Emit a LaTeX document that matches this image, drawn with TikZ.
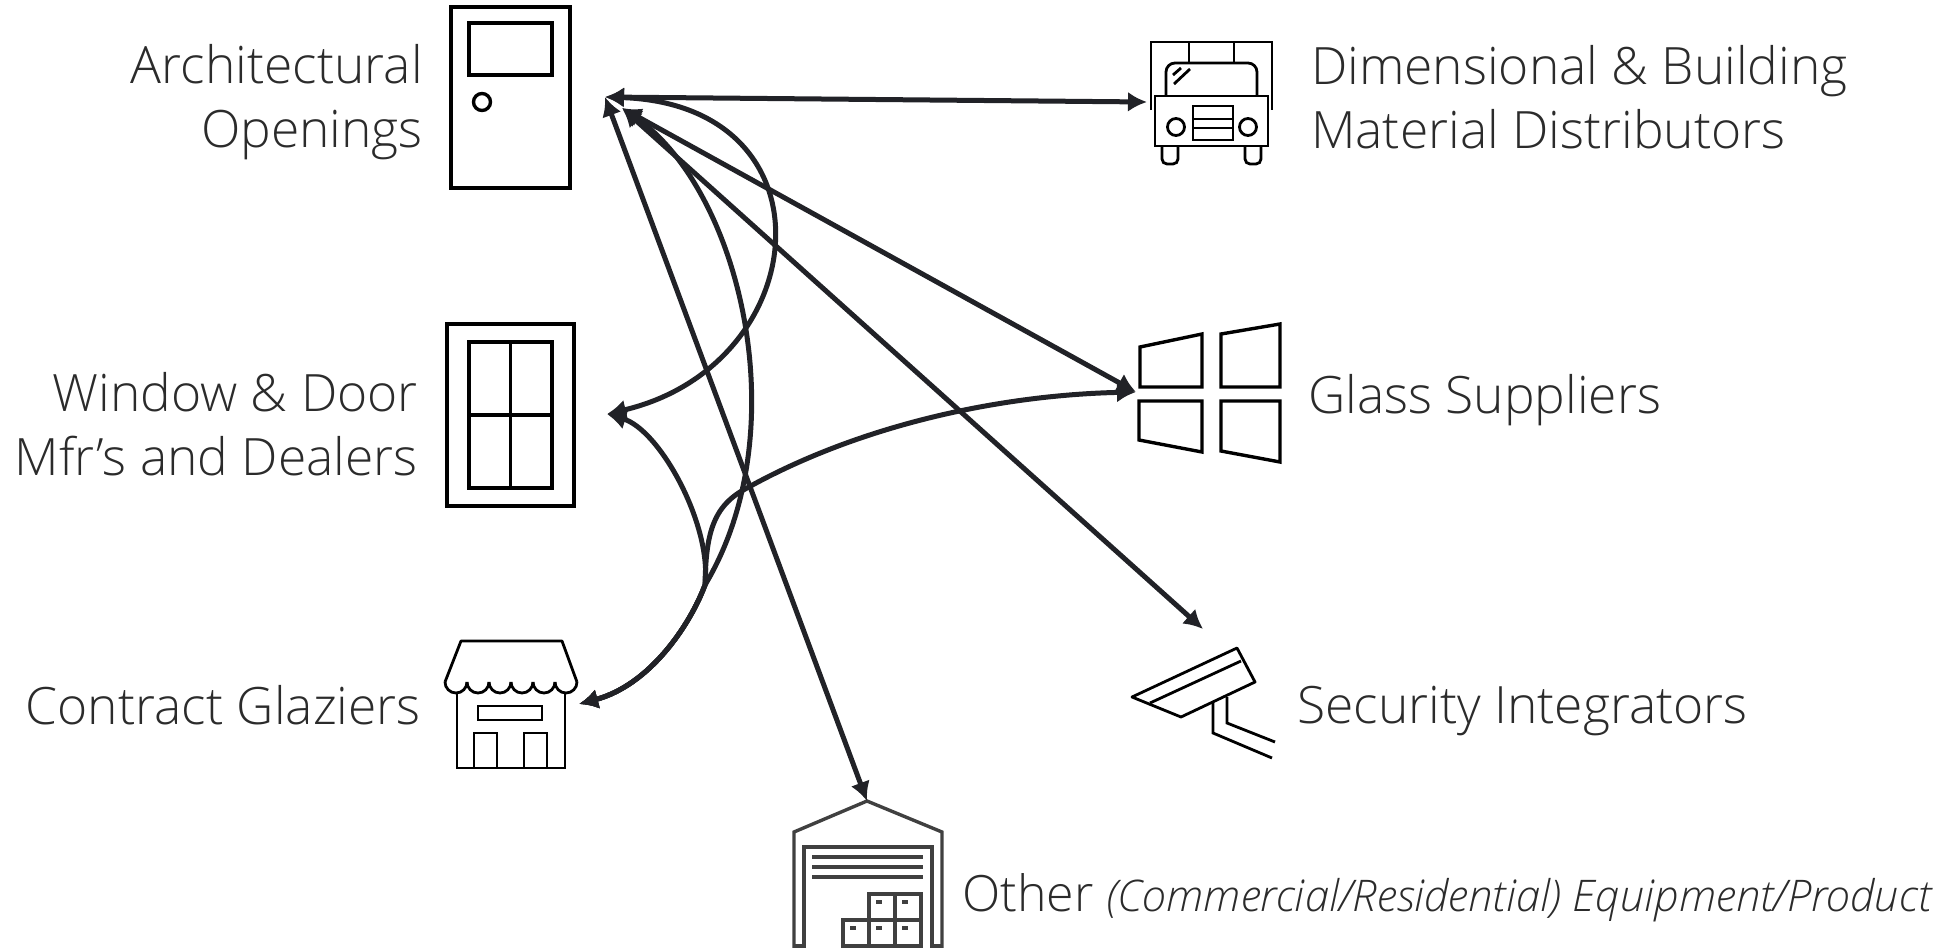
\documentclass[tikz,border=0pt]{standalone}
\usepackage{fontspec}
\setmainfont{Open Sans Light}
\usetikzlibrary{arrows.meta,positioning}
\definecolor{inkdark}{HTML}{212227}
\definecolor{labelgray}{HTML}{2B2B2B}
\definecolor{shedgray}{HTML}{404040}
\tikzset{
  icon/.style={line width=3.4pt,black},
  iconthin/.style={line width=2.8pt,black},
  shedline/.style={line width=3.4pt,shedgray},
  flow/.style={line width=5pt,inkdark,line join=round,{Latex[length=19pt,width=20pt]}-{Latex[length=19pt,width=20pt]}},
  lbl/.style={font=\fontsize{51.5}{64}\selectfont,text=labelgray,inner sep=0pt,align=right,anchor=east},
  lblr/.style={font=\fontsize{51.5}{64}\selectfont,text=labelgray,inner sep=0pt,align=left,anchor=west}
}
\begin{document}
\begin{tikzpicture}[x=1pt,y=-1pt]
  \useasboundingbox (0,0) rectangle (1947,948);
  % anchors for the connectors
  \coordinate (hub) at (605,97);
  \coordinate (hubb) at (622,108);
  \coordinate (truck) at (1147,102);
  \coordinate (glass) at (1136,392);
  \coordinate (camera) at (1203,629);
  \coordinate (shed) at (867,801);
  \coordinate (win) at (607,414);
  \coordinate (shop) at (579,704);
  \coordinate (merge) at (705,585);
  % door
  \draw[icon] (451,7) rectangle (570,188);
  \draw[icon] (469,23) rectangle (552,75);
  \draw[icon] (482,102) circle (8.5pt);
  % window
  \draw[icon] (447,324) rectangle (574,506);
  \draw[icon] (469,342) rectangle (552,488);
  \draw[icon] (510.5,342) -- (510.5,488) (469,415) -- (552,415);
  % store
  \draw[iconthin,line join=round] (445,682) -- (461,641) -- (562,641) -- (577,682);
  \foreach \xa in {445,467,489,511,533,555}
    \draw[iconthin] (\xa,682) arc (180:360:11pt);
  \draw[iconthin] (457,694) -- (457,768) -- (565,768) -- (565,694);
  \draw[iconthin] (478,706) rectangle (542,720);
  \draw[iconthin] (474,768) -- (474,733) -- (497,733) -- (497,768);
  \draw[iconthin] (524,768) -- (524,733) -- (547,733) -- (547,768);
  % truck
  \draw[iconthin] (1151,110) -- (1151,42) -- (1272,42) -- (1272,110);
  \draw[iconthin] (1189,42) -- (1189,63) (1234,42) -- (1234,63);
  \draw[iconthin,rounded corners=9pt] (1166,96) -- (1166,63) -- (1257,63) -- (1257,96);
  \draw[iconthin] (1174,84) -- (1190,69) (1173,75) -- (1181,68);
  \draw[iconthin] (1155,96) rectangle (1268,146);
  \draw[iconthin] (1193,106) rectangle (1233,140);
  \draw[iconthin] (1193,119) -- (1233,119) (1193,128) -- (1233,128);
  \draw[iconthin] (1176,127) circle (8.5pt) (1248,127) circle (8.5pt);
  \draw[iconthin,rounded corners=5pt] (1162,146) -- (1162,164) -- (1178,164) -- (1178,146);
  \draw[iconthin,rounded corners=5pt] (1245,146) -- (1245,164) -- (1261,164) -- (1261,146);
  % glass
  \draw[icon] (1140,347) -- (1202,334) -- (1202,387) -- (1140,387) -- cycle;
  \draw[icon] (1221,334) -- (1280,324) -- (1280,387) -- (1221,387) -- cycle;
  \draw[icon] (1139,401) -- (1202,401) -- (1202,452) -- (1139,440) -- cycle;
  \draw[icon] (1221,401) -- (1280,401) -- (1280,462) -- (1221,451) -- cycle;
  % camera
  \draw[iconthin,line join=round] (1132,697) -- (1237,648) -- (1255,682) -- (1181,717) -- cycle;
  \draw[iconthin] (1150,703) -- (1241,661);
  \draw[iconthin] (1213,702) -- (1213,733) -- (1272,758);
  \draw[iconthin] (1227,697) -- (1227,723) -- (1275,742);
  % warehouse
  \draw[shedline] (794,948) -- (794,832) -- (867,801) -- (942,832) -- (942,948);
  \draw[shedline] (804,948) -- (804,847) -- (932,847) -- (932,948);
  \draw[shedline] (794,946) -- (804,946) (932,946) -- (942,946);
  \draw[shedline] (812,857) -- (923,857) (812,867) -- (923,867) (812,877) -- (923,877);
  \draw[shedline] (869,894) rectangle (921,946);
  \draw[shedline] (843,920) rectangle (921,946);
  \draw[shedline] (895,894) -- (895,946);
  \foreach \xa/\ya in {876/900,902/900,850/926,876/926,902/926}
    \fill[shedgray] (\xa,\ya) rectangle ++(6,4);
  % labels
  \node[lbl] (openings) at (423,102) {Architectural\\Openings};
  \node[lbl] (dealers) at (418,424) {Window \& Door\\Mfr’s and Dealers};
  \node[lbl] (glaziers) at (421,705) {Contract Glaziers};
  \node[lblr] (distrib) at (1311,97) {Dimensional \& Building\\Material Distributors};
  \node[lblr] (suppliers) at (1308,400) {Glass Suppliers};
  \node[lblr] (integrators) at (1297,711) {Security Integrators};
  \node[lblr] (other) at (962,898) {\fontsize{50}{64}\selectfont Other {\fontsize{43.6}{50}\selectfont\itshape (Commercial/Residential) Equipment/Product}};
  % connectors
  \draw[flow] (hub) -- (truck);
  \draw[flow] (hubb) -- (glass);
  \draw[flow] (hubb) -- (camera);
  \draw[flow] (hub) -- (shed);
  \draw[flow] (hub) .. controls (838,105) and (815,365) .. (win);
  \draw[flow] (hubb) .. controls (740,190) and (798,430) .. (merge) .. controls (690,625) and (650,685) .. (shop);
  \draw[flow] (win) .. controls (660,430) and (712,525) .. (merge) .. controls (690,625) and (650,685) .. (shop);
  \draw[flow] (glass) .. controls (1000,395) and (860,425) .. (747,488) .. controls (712,506) and (706,535) .. (merge) .. controls (690,625) and (650,685) .. (shop);
\end{tikzpicture}
\end{document}
